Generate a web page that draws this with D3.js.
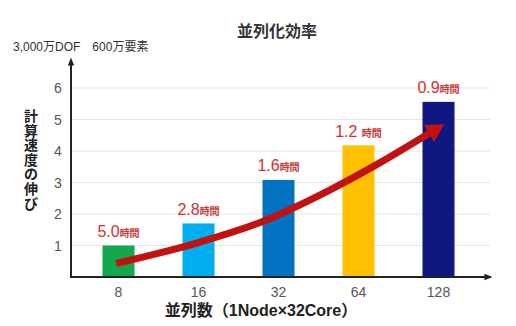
<!DOCTYPE html>
<html><head><meta charset="utf-8">
<script src="https://cdn.jsdelivr.net/npm/d3@7"></script>
<style>
html,body{margin:0;padding:0;background:#fff;}
svg{display:block;font-family:"Liberation Sans","Noto Sans CJK JP",sans-serif;}
</style></head>
<body>
<svg id="chart" width="516" height="326"></svg>
<script>
const categories = ["8","16","32","64","128"];
const speedup = [1.0, 1.7, 3.08, 4.18, 5.56];
const timeNums = ["5.0","2.8","1.6","1.2 ","0.9"];
const timeUnit = "時間";
const barColors = ["#12a84e","#00adef","#0472c2","#ffc000","#0e1880"];
const yTicks = [1,2,3,4,5,6];
// arrow trend: [category position (index), value]
const trendPts = [[-0.03,0.43],[1.02,1.11],[1.77,1.73],[2.64,2.76],[3.27,3.63],[3.89,4.57]];
const title = "並列化効率";
const note = "3,000万DOF　600万要素";
const yTitle = "計算速度の伸び";
const xTitle = "並列数（1Node×32Core）";

const svg = d3.select("#chart");
const x0 = 71, y0 = 277;
const x = d3.scaleBand().domain(categories).range([78.5, 478.5]).paddingInner(0.6).paddingOuter(0.3);
const y = d3.scaleLinear().domain([0,6]).range([y0, 88]);
const xi = d3.scaleLinear().domain([0,1]).range([x(categories[0]) + x.bandwidth()/2, x(categories[1]) + x.bandwidth()/2]);

// gridlines
svg.append("g").selectAll("line").data(yTicks).join("line")
  .attr("x1", x0).attr("x2", 490).attr("y1", d=>y(d)).attr("y2", d=>y(d))
  .attr("stroke", "#e6e6e6").attr("stroke-width", 1.2);

// y tick labels
svg.append("g").selectAll("text").data(yTicks).join("text")
  .attr("x", 58).attr("y", d=>y(d)+5).attr("text-anchor","middle")
  .attr("font-size", 14).attr("fill", "#555").text(d=>d);

// bars
svg.append("g").selectAll("rect").data(speedup).join("rect")
  .attr("x", (d,i)=>x(categories[i])).attr("width", x.bandwidth())
  .attr("y", d=>y(d)).attr("height", d=>y0 - y(d))
  .attr("fill", (d,i)=>barColors[i]);

// value labels
const lab = svg.append("g").selectAll("text").data(speedup).join("text")
  .attr("x", (d,i)=>x(categories[i]) + x.bandwidth()/2)
  .attr("y", d=>y(d) - 8.5).attr("text-anchor","middle")
  .attr("fill", "#d2312f");
lab.append("tspan").attr("font-size", 16).text((d,i)=>timeNums[i]);
lab.append("tspan").attr("font-size", 10).attr("font-weight","bold").text(timeUnit);

// axes
const defs = svg.append("defs");
defs.append("marker").attr("id","ax").attr("viewBox","0 0 10 10").attr("refX",2).attr("refY",5)
  .attr("markerWidth",8).attr("markerHeight",8).attr("markerUnits","userSpaceOnUse").attr("orient","auto")
  .append("path").attr("d","M0,1 L10,5 L0,9 Z").attr("fill","#222");
svg.append("line").attr("x1", x0).attr("y1", y0).attr("x2", x0).attr("y2", 64)
  .attr("stroke","#222").attr("stroke-width",2).attr("marker-end","url(#ax)");
svg.append("line").attr("x1", x0-1).attr("y1", y0).attr("x2", 486).attr("y2", y0)
  .attr("stroke","#222").attr("stroke-width",2).attr("marker-end","url(#ax)");

// x tick labels
svg.append("g").selectAll("text").data(categories).join("text")
  .attr("x", d=>x(d)+x.bandwidth()/2).attr("y", 297).attr("text-anchor","middle")
  .attr("font-size", 14).attr("fill","#555").text(d=>d);

// trend arrow
defs.append("marker").attr("id","ar").attr("viewBox","0 0 18 20").attr("refX",1).attr("refY",10)
  .attr("markerWidth",18).attr("markerHeight",20).attr("markerUnits","userSpaceOnUse").attr("orient","auto")
  .append("path").attr("d","M0,0 L18,10 L0,20 Z").attr("fill","#c3110f");
const line = d3.line().x(d=>xi(d[0])).y(d=>y(d[1])).curve(d3.curveMonotoneX);
svg.append("path").attr("d", line(trendPts)).attr("fill","none")
  .attr("stroke","#c3110f").attr("stroke-width",7).attr("marker-end","url(#ar)");

// texts
svg.append("text").attr("x", 277).attr("y", 37).attr("text-anchor","middle")
  .attr("font-size", 16).attr("font-weight","bold").attr("fill","#333").text(title);
svg.append("text").attr("x", 13).attr("y", 51)
  .attr("font-size", 12).attr("fill","#333").text(note);
svg.append("text").attr("text-anchor","middle")
  .attr("font-size", 14).attr("font-weight","bold").attr("fill","#222")
  .selectAll("tspan").data(Array.from(yTitle)).join("tspan")
  .attr("x", 31).attr("y", (d,i)=>121 + i*14.6).text(d=>d);
svg.append("text").attr("x", 261).attr("y", 316).attr("text-anchor","middle")
  .attr("font-size", 16).attr("font-weight","bold").attr("fill","#222").text(xTitle);
</script>
</body></html>
